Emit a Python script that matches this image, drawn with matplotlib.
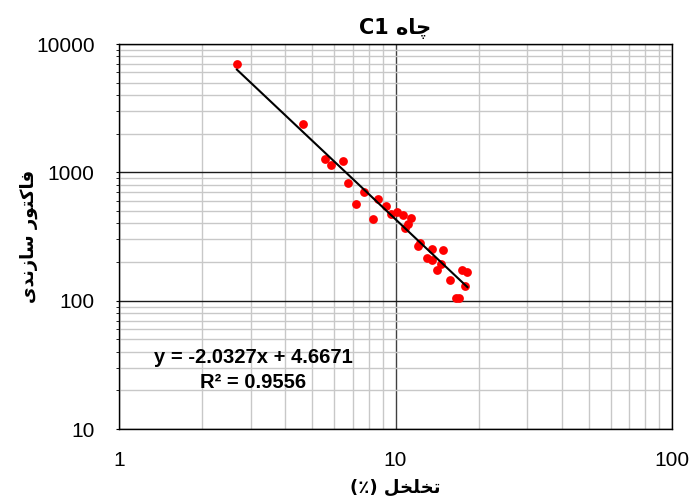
import matplotlib
matplotlib.use("Agg")
import matplotlib.pyplot as plt
import numpy as np
from matplotlib.ticker import LogLocator, NullFormatter

# porosity (%) and formation factor
porosity = [2.67, 4.63, 5.56, 5.84, 6.44, 6.75, 7.21, 7.71, 8.31, 8.62,
            9.24, 9.61, 10.1, 10.62, 10.82, 11.07, 11.35, 12.06, 12.27, 13.0,
            13.6, 13.6, 14.1, 14.65, 14.9, 15.7, 16.5, 16.97, 17.4, 17.8, 18.2]
formation_factor = [6980, 2380, 1262, 1146, 1218, 830, 566, 698, 435, 620,
                    546, 471, 490, 468, 366, 395, 438, 266, 280, 216,
                    252, 208, 172, 194, 247, 145, 105, 105, 173, 131, 168]

# trendline from the picture: log10(y) = slope * log10(x) + intercept
slope = -2.0327
intercept = 4.6671
r_squared = 0.9556

# Persian labels, written in visual order with Arabic presentation forms
title_text = "C1 \uFEE9\uFE8E\uFB7C"                                   # چاه C1
xlabel_text = "(\u066A) \uFEDE\uFEA8\uFEE0\uFEA8\uFE97"               # تخلخل (٪)
ylabel_text = ("\uFBFC\uFEAA\uFEE7\uFEAF\uFE8E\uFEB3 "
               "\uFEAD\uFEEE\uFE98\uFB90\uFE8E\uFED3")                # فاکتور سازندی

num_font = ["Liberation Sans", "DejaVu Sans"]

fig = plt.figure(figsize=(6.91, 4.98), dpi=100)
ax = fig.add_axes([119 / 691, 1 - 429 / 498, (672 - 119) / 691, (429 - 44) / 498])

ax.set_xscale("log")
ax.set_yscale("log")
ax.set_xlim(1, 100)
ax.set_ylim(10, 10000)

# grid: minor light gray, major dark
ax.xaxis.set_minor_locator(LogLocator(base=10, subs=np.arange(2, 10)))
ax.yaxis.set_minor_locator(LogLocator(base=10, subs=np.arange(2, 10)))
ax.grid(which="minor", color="#c8c8c8", linewidth=1.0)
ax.grid(which="major", axis="y", color="#1a1a1a", linewidth=1.0)
ax.grid(which="major", axis="x", color="#404040", linewidth=1.0)
ax.set_axisbelow(True)

ax.xaxis.set_minor_formatter(NullFormatter())
ax.yaxis.set_minor_formatter(NullFormatter())
ax.set_xticks([1, 10, 100])
ax.set_xticklabels(["1", "10", "100"])
ax.set_yticks([10, 100, 1000, 10000])
ax.set_yticklabels(["10", "100", "1000", "10000"])
ax.tick_params(axis="x", which="both", length=0, pad=16, labelsize=15)
ax.tick_params(axis="y", which="both", length=2.5, pad=15, labelsize=15)
for lbl in ax.get_xticklabels() + ax.get_yticklabels():
    lbl.set_family(num_font)

for sp in ax.spines.values():
    sp.set_color("black")
    sp.set_linewidth(1.0)

ax.scatter(porosity, formation_factor, s=40, color="#ff0000", zorder=3,
           linewidths=0)

xs = np.array([min(porosity), max(porosity)])
ys = 10 ** (slope * np.log10(xs) + intercept)
ax.plot(xs, ys, color="black", linewidth=1.5, zorder=4)

ax.text(0.243, 0.154,
        f"y = {slope}x + {intercept}\nR\u00b2 = {r_squared}",
        transform=ax.transAxes, ha="center", va="center",
        multialignment="center", fontsize=14.5, fontweight="bold",
        family=num_font, linespacing=1.4, zorder=5)

ax.set_title(title_text, fontsize=15, fontweight="bold",
             family="DejaVu Sans", pad=7)
ax.set_xlabel(xlabel_text, fontsize=13, fontweight="bold",
              family="DejaVu Sans")
ax.set_ylabel(ylabel_text, fontsize=13, fontweight="bold",
              family="DejaVu Sans")
ax.xaxis.set_label_coords(0.5, -0.128)
ax.yaxis.set_label_coords(-0.147, 0.5)

fig.savefig("out.png", dpi=100)
